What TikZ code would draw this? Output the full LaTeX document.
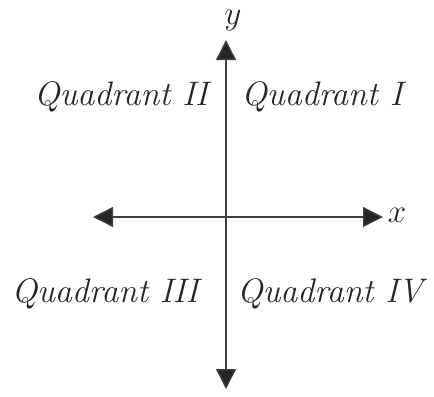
\documentclass[tikz,border=0pt]{standalone}
\usepackage{xcolor}
\usepackage{tikz}
\usetikzlibrary{arrows.meta}

\tikzset{
  axis/.style={line width=1pt, draw=black!75, {Triangle[length=15pt,width=15pt,fill=black!85]}-{Triangle[length=15pt,width=15pt,fill=black!85]}},
  quad/.style={font=\fontsize{25.5}{30}\selectfont\itshape, text=black!85},
  lbl/.style={font=\fontsize{24}{28}\selectfont\itshape, text=black!85, inner sep=0pt}
}

\begin{document}
\begin{tikzpicture}[x=0.75pt,y=-0.75pt]
\useasboundingbox (0,0) rectangle (434,396);
\coordinate (top) at (226,40);
\coordinate (bottom) at (226,389);
\coordinate (left) at (93,217);
\coordinate (right) at (383,217);
\draw[axis] (bottom) -- (top);
\draw[axis] (left) -- (right);
\node[lbl] (ylab) at (233,21) {$y$};
\node[lbl] (xlab) at (397,215) {$x$};
\node[quad] (q2) at (121,97) {Quadrant II};
\node[quad] (q1) at (322,97) {Quadrant I};
\node[quad] (q3) at (105,294) {Quadrant III};
\node[quad] (q4) at (330,294) {Quadrant IV};
\end{tikzpicture}
\end{document}
